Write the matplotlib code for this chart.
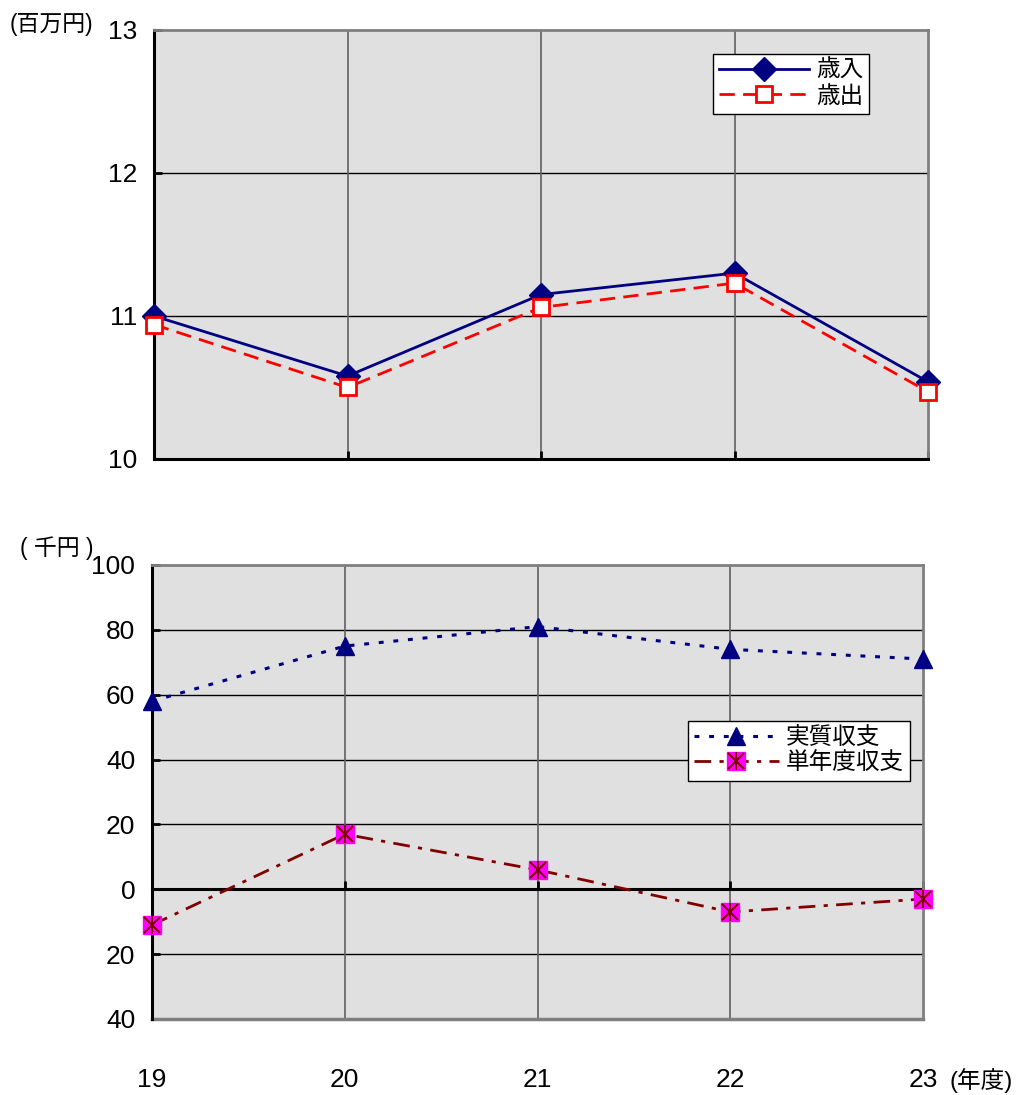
import matplotlib
matplotlib.use("Agg")
import matplotlib.pyplot as plt
from matplotlib.lines import Line2D
from matplotlib.legend_handler import HandlerTuple
from matplotlib.ticker import FuncFormatter

plt.rcParams['font.family'] = ['Liberation Sans', 'Noto Sans CJK JP', 'DejaVu Sans']

# データ
years = [19, 20, 21, 22, 23]
year_labels = ["19", "20", "21", "22", "23"]
sainyu = [11.00, 10.58, 11.15, 11.30, 10.54]      # 歳入 (百万円)
saishutsu = [10.94, 10.50, 11.06, 11.23, 10.47]   # 歳出 (百万円)
jisshitsu = [58, 75, 81, 74, 71]                  # 実質収支 (千円)
tannendo = [-11, 17, 6, -7, -3]                   # 単年度収支 (千円)

bg = "#e0e0e0"
gray = "#7f7f7f"

fig = plt.figure(figsize=(10.23, 10.95), dpi=100)

# 上のグラフ
ax1 = fig.add_axes([154/1023, 1 - 459/1095, 774/1023, 429/1095])
ax1.set_facecolor(bg)
ax1.set_xlim(19, 23)
ax1.set_ylim(10, 13)
ax1.set_yticks([10, 11, 12, 13])
ax1.set_xticks(years)
ax1.set_xticklabels([])
for y in [11, 12]:
    ax1.axhline(y, color="black", lw=1, zorder=1)
for x in [20, 21, 22]:
    ax1.axvline(x, color="#606060", lw=1.2, zorder=1)

ax1.plot(years, sainyu, color="#000080", lw=2, marker="D", ms=12,
         mfc="#000080", mec="#000080", clip_on=False, zorder=3, label="歳入")
ax1.plot(years, saishutsu, color="red", lw=2, linestyle=(0, (5.5, 3)),
         marker="s", ms=11, mfc="white", mec="red", mew=2,
         clip_on=False, zorder=4, label="歳出")

for s in ["left", "bottom"]:
    ax1.spines[s].set_color("black")
    ax1.spines[s].set_linewidth(2.2)
for s in ["top", "right"]:
    ax1.spines[s].set_color(gray)
    ax1.spines[s].set_linewidth(2)
ax1.tick_params(axis="y", direction="in", length=6, width=2, labelsize=19, pad=12)
ax1.tick_params(axis="x", direction="in", length=6, width=2)

leg1 = ax1.legend(loc="upper right", bbox_to_anchor=(0.924, 0.944), borderaxespad=0,
                  fancybox=False, edgecolor="black", framealpha=1, fontsize=17,
                  handlelength=3.8, borderpad=0.25, labelspacing=0.15, handletextpad=0.3)
leg1.get_frame().set_linewidth(1)

fig.text(10/1023, 1 - 24/1095, "(百万円)", fontsize=16.5, va="center", ha="left")

# 下のグラフ
ax2 = fig.add_axes([152/1023, 1 - 1019/1095, 771/1023, 454/1095])
ax2.set_facecolor(bg)
ax2.set_xlim(19, 23)
ax2.set_ylim(-40, 100)
ax2.set_yticks(range(-40, 101, 20))
ax2.yaxis.set_major_formatter(FuncFormatter(lambda v, p: f"{abs(int(v))}"))
for y in [-20, 20, 40, 60, 80]:
    ax2.axhline(y, color="black", lw=1, zorder=1)
for x in [20, 21, 22]:
    ax2.axvline(x, color="#606060", lw=1.2, zorder=1)

ax2.plot(years, jisshitsu, color="#000080", lw=2.2, linestyle=(0, (1.6, 3.2)),
         marker="^", ms=13, mfc="#000080", mec="#000080",
         clip_on=False, zorder=3)
ax2.plot(years, tannendo, color="#800000", lw=2, linestyle=(0, (6, 3, 1.5, 3)),
         marker="s", ms=13, mfc="#ff00ff", mec="#ff00ff",
         clip_on=False, zorder=3)
ax2.plot(years, tannendo, linestyle="none", marker="x", ms=11, mec="#800000", mew=1.5,
         clip_on=False, zorder=4)
ax2.plot(years, tannendo, linestyle="none", marker="|", ms=13, mec="#800000", mew=1.5,
         clip_on=False, zorder=4)

ax2.spines["left"].set_color("black")
ax2.spines["left"].set_linewidth(2.2)
ax2.spines["bottom"].set_position(("data", 0))
ax2.spines["bottom"].set_color("black")
ax2.spines["bottom"].set_linewidth(2.2)
ax2.spines["bottom"].set_zorder(2)
for s in ["top", "right"]:
    ax2.spines[s].set_color(gray)
    ax2.spines[s].set_linewidth(2)
ax2.axhline(-40, color=gray, lw=2.5, clip_on=False, zorder=2)
ax2.set_xticks(years)
ax2.set_xticklabels([])
ax2.tick_params(axis="y", direction="in", length=6, width=2, labelsize=19, pad=12)
ax2.tick_params(axis="x", direction="in", length=6, width=2)

for x, lab in zip(years, year_labels):
    ax2.text(x, -0.135, lab, transform=ax2.get_xaxis_transform(),
             ha="center", va="center", fontsize=19)
ax2.text(23.14, -0.135, "(年度)", transform=ax2.get_xaxis_transform(),
         ha="left", va="center", fontsize=17)

fig.text(20/1023, 1 - 548/1095, "( 千円 )", fontsize=16.5, va="center", ha="left")

h1 = Line2D([], [], color="#000080", lw=2.2, linestyle=(0, (1.6, 3.2)),
            marker="^", ms=13, mfc="#000080", mec="#000080")
h2a = Line2D([], [], color="#800000", lw=2, linestyle=(0, (6, 3, 1.5, 3)),
             marker="s", ms=13, mfc="#ff00ff", mec="#ff00ff")
h2b = Line2D([], [], linestyle="none", marker="x", ms=11, mec="#800000", mew=1.5)
h2c = Line2D([], [], linestyle="none", marker="|", ms=13, mec="#800000", mew=1.5)
leg2 = ax2.legend([h1, (h2a, h2b, h2c)], ["実質収支", "単年度収支"],
                  handler_map={tuple: HandlerTuple(ndivide=1, pad=0)},
                  loc="upper right", bbox_to_anchor=(0.983, 0.656), borderaxespad=0,
                  fancybox=False, edgecolor="black", framealpha=1, fontsize=17,
                  handlelength=3.6, borderpad=0.25, labelspacing=0.15, handletextpad=0.3)
leg2.get_frame().set_linewidth(1)

fig.savefig("out.png", dpi=100)
